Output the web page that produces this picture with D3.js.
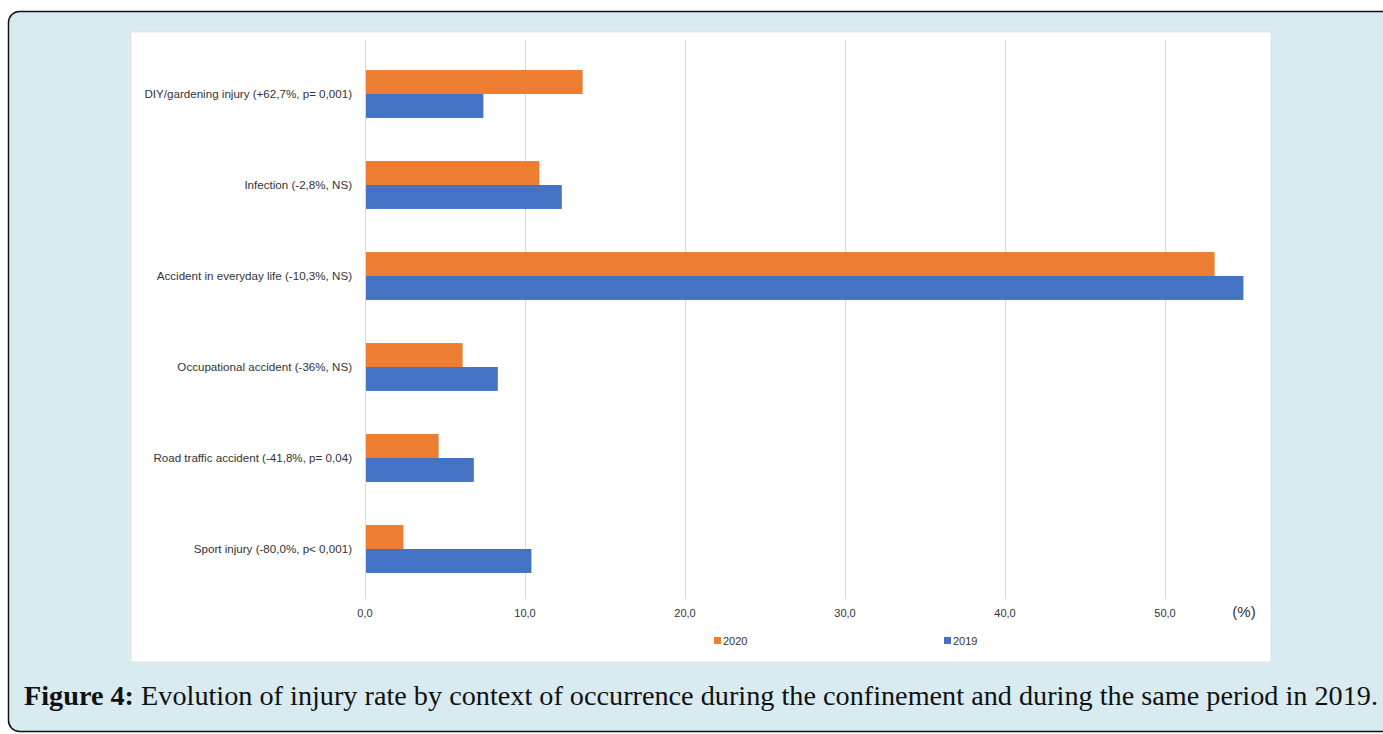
<!DOCTYPE html>
<html>
<head>
<meta charset="utf-8">
<script src="https://cdn.jsdelivr.net/npm/d3@7"></script>
<style>
  body { margin: 0; background: #fff; }
  svg { display: block; }
</style>
</head>
<body>
<script>
// chart data
const categories = [
  "DIY/gardening injury (+62,7%, p= 0,001)",
  "Infection (-2,8%, NS)",
  "Accident in everyday life (-10,3%, NS)",
  "Occupational accident (-36%, NS)",
  "Road traffic accident (-41,8%, p= 0,04)",
  "Sport injury (-80,0%, p< 0,001)"
];
const values2020 = [13.6, 10.9, 53.1, 6.1, 4.6, 2.4];
const values2019 = [7.4, 12.3, 54.9, 8.3, 6.8, 10.4];
const seriesNames = ["2020", "2019"];
const xTicks = [0, 10, 20, 30, 40, 50];

const W = 1383, H = 734;
const colors = { "2020": "#ED7D31", "2019": "#4472C4" };
const font = "'Liberation Sans', Arial, sans-serif";

const svg = d3.select("body").append("svg")
  .attr("width", W).attr("height", H);

// outer figure box
svg.append("rect")
  .attr("x", 8.5).attr("y", 11.5)
  .attr("width", 1420).attr("height", 720)
  .attr("rx", 11)
  .attr("fill", "#d7ebf0")
  .attr("stroke", "#111").attr("stroke-width", 1.5);

// white chart panel
svg.append("rect")
  .attr("x", 131).attr("y", 32)
  .attr("width", 1140).attr("height", 630)
  .attr("fill", "#fff")
  .attr("stroke", "#e3e3e3");

const x = d3.scaleLinear().domain([0, 50]).range([365, 1165]);
const y = d3.scaleBand().domain(categories).range([48.5, 594.5]).paddingInner(0.474).paddingOuter(0.237);
const ySub = d3.scaleBand().domain(seriesNames).range([0, y.bandwidth()]);

// gridlines
svg.append("g").selectAll("line")
  .data(xTicks)
  .join("line")
  .attr("x1", d => x(d) + 0.5).attr("x2", d => x(d) + 0.5)
  .attr("y1", 40).attr("y2", 599)
  .attr("stroke", "#d9d9d9").attr("stroke-width", 1);

// tick labels
svg.append("g").selectAll("text")
  .data(xTicks)
  .join("text")
  .attr("x", d => x(d)).attr("y", 617)
  .attr("text-anchor", "middle")
  .attr("font-family", font)
  .attr("font-size", 11)
  .attr("fill", "#333")
  .text(d => d3.format(".1f")(d).replace(".", ","));

svg.append("text")
  .attr("x", 1244).attr("y", 617)
  .attr("text-anchor", "middle")
  .attr("font-family", font)
  .attr("font-size", 15)
  .attr("fill", "#333")
  .text("(%)");

// bars
const rows = categories.map((c, i) => ({ c, v: { "2020": values2020[i], "2019": values2019[i] } }));
const grp = svg.append("g").selectAll("g")
  .data(rows)
  .join("g")
  .attr("transform", d => `translate(0,${y(d.c)})`);

grp.selectAll("rect")
  .data(d => seriesNames.map(s => ({ s, v: d.v[s] })))
  .join("rect")
  .attr("x", x(0) + 1)
  .attr("y", d => ySub(d.s))
  .attr("width", d => x(d.v) - x(0) - 1)
  .attr("height", ySub.bandwidth())
  .attr("fill", d => colors[d.s]);

// category labels
svg.append("g").selectAll("text")
  .data(categories)
  .join("text")
  .attr("x", 352).attr("y", d => y(d) + y.bandwidth() / 2 + 4)
  .attr("text-anchor", "end")
  .attr("font-family", font)
  .attr("font-size", 11.6)
  .attr("fill", "#333")
  .text(d => d);

// legend
const legendX = [714, 944];
const leg = svg.append("g").selectAll("g")
  .data(seriesNames)
  .join("g")
  .attr("transform", (d, i) => `translate(${legendX[i]},637)`);
leg.append("rect")
  .attr("width", 7).attr("height", 7)
  .attr("fill", d => colors[d]);
leg.append("text")
  .attr("x", 9).attr("y", 8)
  .attr("font-family", font)
  .attr("font-size", 11)
  .attr("fill", "#333")
  .text(d => d);

// caption
const cap = svg.append("text")
  .attr("x", 24).attr("y", 705)
  .attr("font-family", "'Liberation Serif', 'DejaVu Serif', serif")
  .attr("font-size", 26.5)
  .attr("fill", "#111")
  .attr("textLength", 1354)
  .attr("lengthAdjust", "spacingAndGlyphs");
cap.append("tspan").attr("font-weight", "bold").text("Figure 4:");
cap.append("tspan").text(" Evolution of injury rate by context of occurrence during the confinement and during the same period in 2019.");
</script>
</body>
</html>
